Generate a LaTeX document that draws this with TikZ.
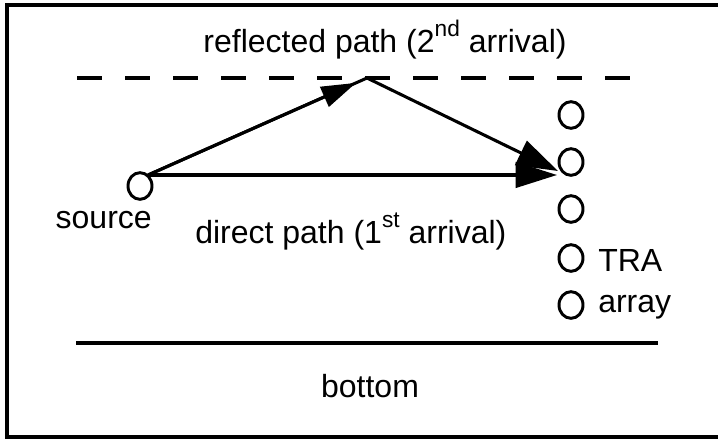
\documentclass[tikz,border=0pt]{standalone}
\usepackage{fontspec}
\setmainfont{Liberation Sans}
\usetikzlibrary{arrows.meta,calc,shapes.geometric}
\newcommand{\upidx}[1]{\raisebox{0.5em}{\fontsize{17}{17}\selectfont #1}}
\begin{document}
\begin{tikzpicture}[x=0.75pt,y=-0.75pt,
  ray/.style={line width=2.3pt},
  sensor/.style={ellipse,draw,line width=2.2pt,minimum width=18pt,minimum height=20pt,inner sep=0pt},
  lbl/.style={font=\fontsize{24}{28}\selectfont,inner sep=0pt,anchor=base},
  boundary/.style={line width=2.6pt}]
\useasboundingbox (0,0) rectangle (718,439);
% outer frame (open on the right)
\draw[line width=2.4pt] (740,5) -- (7,5) -- (7,437) -- (740,437);

% sea surface (dashed) and sea floor
\coordinate (surfL) at (77,78);
\coordinate (surfR) at (630,78);
\draw[boundary,dash pattern=on 19pt off 17pt] (surfL) -- (surfR);
\coordinate (floorL) at (76,343);
\coordinate (floorR) at (658,343);
\draw[boundary] (floorL) -- (floorR);

% source and receiver array
\node[sensor] (src) at (140,186) {};
\node[sensor] (r1) at (571,115) {};
\node[sensor] (r2) at (571,162) {};
\node[sensor] (r3) at (571,209) {};
\node[sensor] (r4) at (571,258) {};
\node[sensor] (r5) at (571,305) {};

% ray paths
\coordinate (launch) at (148,175);
\coordinate (apex) at (367,78);
\coordinate (hitD) at (557,175);
\coordinate (hitR) at (558,171);
\coordinate (upTip) at ($(launch)!0.95!(apex)$);
\draw[ray] (launch) -- (apex);
\draw[ray,-{Triangle[length=26pt,width=16pt]}] (launch) -- (upTip);
\draw[ray,-{Triangle[length=31pt,width=20pt]}] (apex) -- (hitR);
\draw[ray,-{Triangle[length=31pt,width=19pt]}] (launch) -- (hitD);

% labels
\node[lbl] (tRefl) at (385,52) {reflected path (2\upidx{nd} arrival)};
\node[lbl,anchor=base east] (tSrc) at (152,228) {source};
\node[lbl,anchor=base west] (tDir) at (195,243) {direct path (1\upidx{st} arrival)};
\node[lbl,anchor=base west] (tTRA) at (598,271) {TRA};
\node[lbl,anchor=base west] (tArr) at (598,312) {array};
\node[lbl] (tBot) at (370,397) {bottom};
\end{tikzpicture}
\end{document}
